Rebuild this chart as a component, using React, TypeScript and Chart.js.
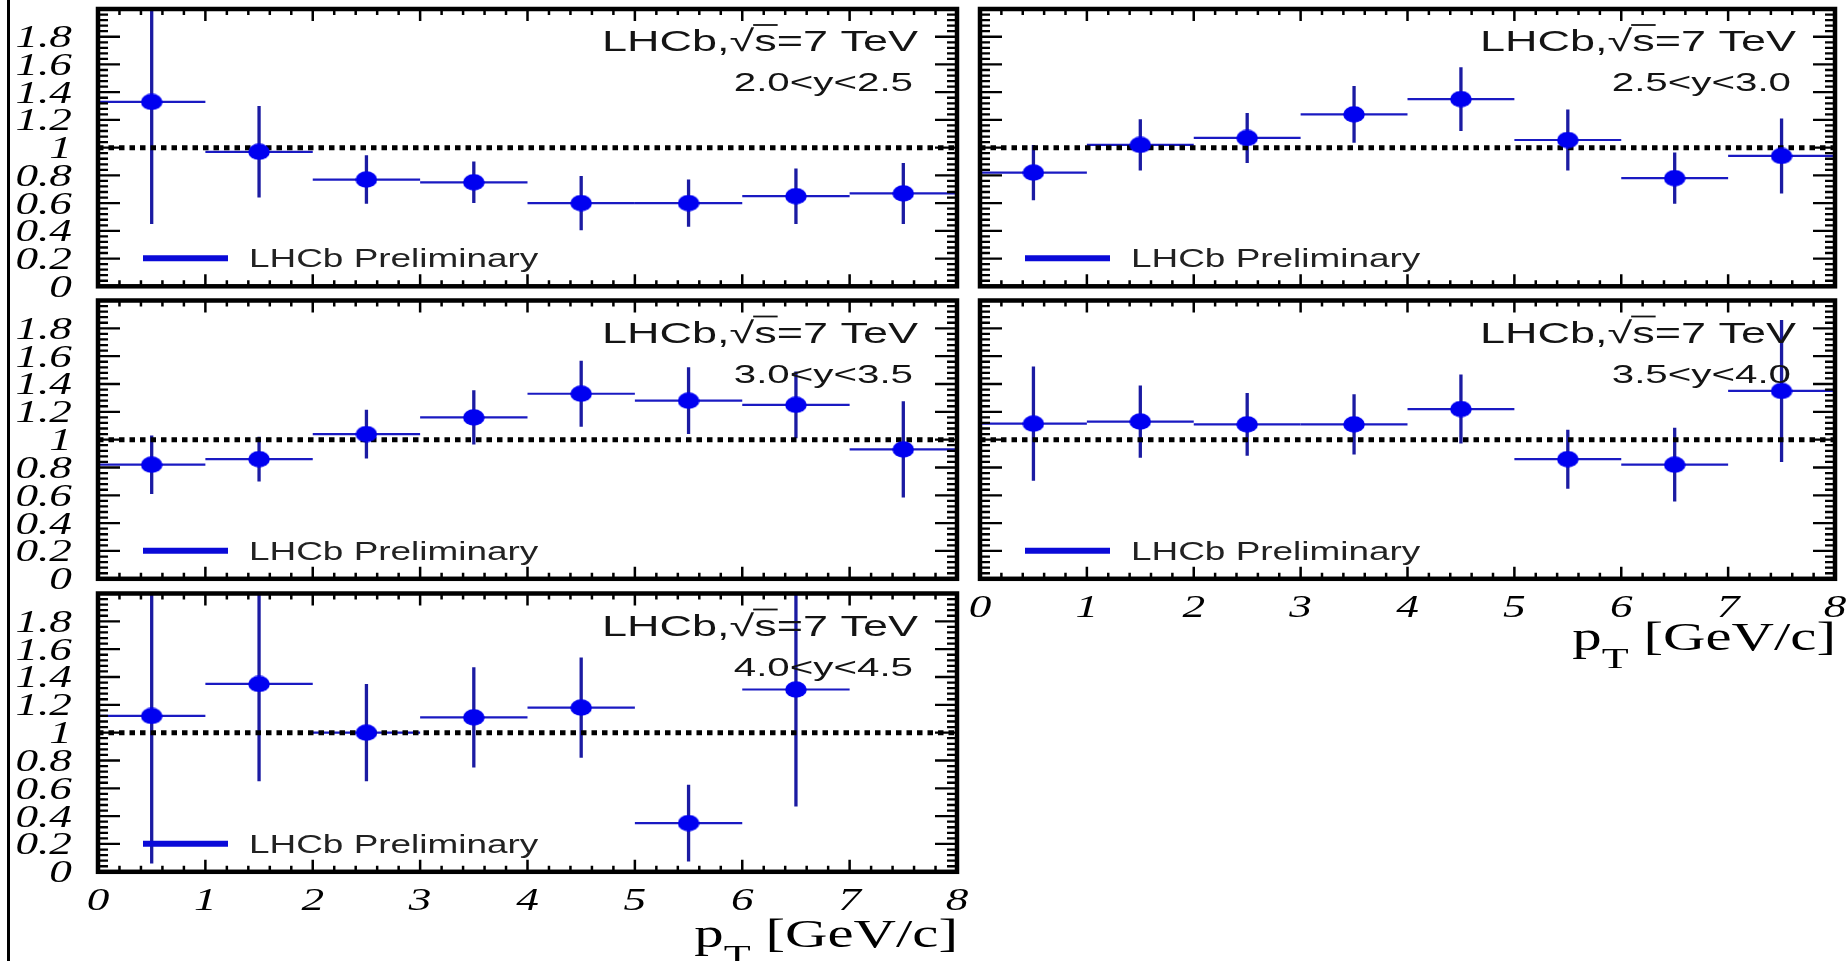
import React, { useEffect, useRef } from 'react';
import { Chart, registerables } from 'chart.js';

Chart.register(...registerables);

// ---------------- data ----------------
const binEdges = [0, 1, 2, 3, 4, 5, 6, 7, 8];
const binCenters = [0.5, 1.5, 2.5, 3.5, 4.5, 5.5, 6.5, 7.5];

const ratioY20to25 = [1.33, 0.97, 0.77, 0.75, 0.6, 0.6, 0.65, 0.67];
const errY20to25 = [0.88, 0.33, 0.175, 0.15, 0.195, 0.17, 0.2, 0.22];
const ratioY25to30 = [0.82, 1.02, 1.07, 1.24, 1.35, 1.055, 0.78, 0.94];
const errY25to30 = [0.2, 0.185, 0.18, 0.205, 0.23, 0.22, 0.185, 0.27];
const ratioY30to35 = [0.82, 0.86, 1.04, 1.16, 1.33, 1.28, 1.25, 0.93];
const errY30to35 = [0.21, 0.16, 0.175, 0.195, 0.237, 0.24, 0.24, 0.346];
const ratioY35to40 = [1.115, 1.13, 1.11, 1.11, 1.22, 0.86, 0.82, 1.35];
const errY35to40 = [0.41, 0.26, 0.226, 0.217, 0.248, 0.212, 0.265, 0.51];
const ratioY40to45 = [1.12, 1.35, 1.0, 1.11, 1.18, 0.35, 1.31, null];
const errY40to45 = [1.06, 0.7, 0.35, 0.36, 0.36, 0.276, 0.84, null];

const rapidityBins = ['2.0<y<2.5', '2.5<y<3.0', '3.0<y<3.5', '3.5<y<4.0', '4.0<y<4.5'];
const referenceLevel = 1;
const xRange = [0, 8];
const yRange = [0, 2];
const yTickValues = [0, 0.2, 0.4, 0.6, 0.8, 1, 1.2, 1.4, 1.6, 1.8];
const yTickLabels = ['0', '0.2', '0.4', '0.6', '0.8', '1', '1.2', '1.4', '1.6', '1.8'];
const xTickValues = [0, 1, 2, 3, 4, 5, 6, 7, 8];
const xTickLabels = ['0', '1', '2', '3', '4', '5', '6', '7', '8'];
const experimentLabel = 'LHCb,√s=7 TeV';
const legendLabel = 'LHCb Preliminary';
const axisTitleMain = 'p';
const axisTitleSub = 'T';
const axisTitleUnit = ' [GeV/c]';

const SERIES = [
  { ratio: ratioY20to25, err: errY20to25 },
  { ratio: ratioY25to30, err: errY25to30 },
  { ratio: ratioY30to35, err: errY30to35 },
  { ratio: ratioY35to40, err: errY35to40 },
  { ratio: ratioY40to45, err: errY40to45 },
];

// ---------------- layout / style ----------------
const PAGE_W = 1846;
const PAGE_H = 961;
const LAYOUT = [
  { left: 98, right: 957, top: 8.3, bottom: 286.3, yLabels: true, xLabels: false, titleDy: 0 },
  { left: 980, right: 1835, top: 8.3, bottom: 286.3, yLabels: false, xLabels: false, titleDy: 0 },
  { left: 98, right: 957, top: 300.5, bottom: 578.8, yLabels: true, xLabels: false, titleDy: 0 },
  { left: 980, right: 1835, top: 300.5, bottom: 578.8, yLabels: false, xLabels: true, titleDy: 71 },
  { left: 98, right: 957, top: 593.5, bottom: 871.8, yLabels: true, xLabels: true, titleDy: 75 },
];

const MARKER_COLOR = '#0000f0';
const VBAR_COLOR = '#1b1ba2';
const HBAR_COLOR = '#1a1ac2';
const TEXT_COLOR = '#141414';
const SERIF_TICK_FONT = "italic 31px 'Liberation Serif'";
const SERIF_SX = 1.46;
const TITLE_SX = 1.47;

let markerCache: HTMLCanvasElement | null = null;
function getMarker(): HTMLCanvasElement {
  if (markerCache) return markerCache;
  const c = document.createElement('canvas');
  c.width = 22;
  c.height = 17;
  const g = c.getContext('2d')!;
  g.fillStyle = MARKER_COLOR;
  g.beginPath();
  g.ellipse(11, 8.5, 10.8, 8.2, 0, 0, Math.PI * 2);
  g.fill();
  markerCache = c;
  return c;
}

function stretchedText(
  ctx: CanvasRenderingContext2D,
  text: string,
  x: number,
  y: number,
  font: string,
  color: string,
  align: CanvasTextAlign,
  sx: number
) {
  ctx.save();
  ctx.font = font;
  ctx.fillStyle = color;
  ctx.textAlign = align;
  ctx.textBaseline = 'alphabetic';
  ctx.translate(x, y);
  ctx.scale(sx, 1);
  ctx.fillText(text, 0, 0);
  ctx.restore();
}

function measure(ctx: CanvasRenderingContext2D, text: string, font: string) {
  ctx.save();
  ctx.font = font;
  const w = ctx.measureText(text).width;
  ctx.restore();
  return w;
}

function makePanelPlugin(idx: number) {
  const L = LAYOUT[idx];
  const S = SERIES[idx];
  return {
    id: 'rootPanel' + idx,
    beforeDatasetsDraw(chart: any) {
      const { ctx, chartArea: a } = chart;
      const xs = chart.scales.x;
      const ys = chart.scales.y;
      ctx.save();
      ctx.beginPath();
      ctx.rect(a.left, a.top, a.right - a.left, a.bottom - a.top);
      ctx.clip();
      for (let i = 0; i < binCenters.length; i++) {
        const r = S.ratio[i];
        const e = S.err[i];
        if (r == null || e == null) continue;
        const py = ys.getPixelForValue(r);
        ctx.strokeStyle = HBAR_COLOR;
        ctx.lineWidth = 2.2;
        ctx.beginPath();
        ctx.moveTo(xs.getPixelForValue(binEdges[i]), py);
        ctx.lineTo(xs.getPixelForValue(binEdges[i + 1]), py);
        ctx.stroke();
        const px = xs.getPixelForValue(binCenters[i]);
        ctx.strokeStyle = VBAR_COLOR;
        ctx.lineWidth = 3.3;
        ctx.beginPath();
        ctx.moveTo(px, ys.getPixelForValue(r - e));
        ctx.lineTo(px, ys.getPixelForValue(r + e));
        ctx.stroke();
      }
      ctx.restore();
    },
    afterDraw(chart: any) {
      const { ctx, chartArea: a } = chart;
      const xs = chart.scales.x;
      const ys = chart.scales.y;

      // ticks (ROOT style, inward on all sides)
      ctx.save();
      ctx.strokeStyle = '#000';
      ctx.lineWidth = 2.5;
      ctx.beginPath();
      for (let k = 0; k <= 40; k++) {
        const v = xRange[0] + k * 0.2;
        const px = xs.getPixelForValue(v);
        const len = k % 5 === 0 ? 12 : 6;
        ctx.moveTo(px, a.bottom);
        ctx.lineTo(px, a.bottom - len);
        ctx.moveTo(px, a.top);
        ctx.lineTo(px, a.top + len);
      }
      ctx.stroke();
      ctx.lineWidth = 2.3;
      ctx.beginPath();
      for (let k = 0; k <= 50; k++) {
        const v = yRange[0] + k * 0.04;
        const py = ys.getPixelForValue(v);
        const len = k % 5 === 0 ? 22 : 10;
        ctx.moveTo(a.left, py);
        ctx.lineTo(a.left + len, py);
        ctx.moveTo(a.right, py);
        ctx.lineTo(a.right - len, py);
      }
      ctx.stroke();

      // frame
      ctx.lineWidth = 4.5;
      ctx.strokeRect(a.left, a.top, a.right - a.left, a.bottom - a.top);
      ctx.restore();

      // y tick labels
      if (L.yLabels) {
        yTickValues.forEach((v, i) => {
          const py = ys.getPixelForValue(v);
          stretchedText(ctx, yTickLabels[i], a.left - 26, py + 10.5, SERIF_TICK_FONT, '#000', 'right', SERIF_SX);
        });
      }
      // x tick labels + axis title
      if (L.xLabels) {
        xTickValues.forEach((v, i) => {
          const px = xs.getPixelForValue(v);
          stretchedText(ctx, xTickLabels[i], px, a.bottom + 38.5, SERIF_TICK_FONT, '#000', 'center', SERIF_SX);
        });
        const mainFont = "40px 'Liberation Serif'";
        const subFont = "30px 'Liberation Serif'";
        const base = a.bottom + L.titleDy;
        const xr = a.right + 1;
        const wUnit = measure(ctx, axisTitleUnit, mainFont) * TITLE_SX;
        const wSub = measure(ctx, axisTitleSub, subFont) * TITLE_SX;
        stretchedText(ctx, axisTitleUnit, xr, base, mainFont, '#000', 'right', TITLE_SX);
        stretchedText(ctx, axisTitleSub, xr - wUnit, base + 18, subFont, '#000', 'right', TITLE_SX);
        stretchedText(ctx, axisTitleMain, xr - wUnit - wSub, base, mainFont, '#000', 'right', TITLE_SX);
      }

      // experiment label with sqrt overline
      const expFont = "30px 'Liberation Sans'";
      const expSx = 1.5;
      const expRight = a.right - 39;
      const expBase = a.top + 42;
      stretchedText(ctx, experimentLabel, expRight, expBase, expFont, TEXT_COLOR, 'right', expSx);
      const wAll = measure(ctx, experimentLabel, expFont) * expSx;
      const wPre = measure(ctx, 'LHCb,√', expFont) * expSx;
      const wS = measure(ctx, 's', expFont) * expSx;
      const x0 = expRight - wAll + wPre - 1;
      ctx.save();
      ctx.strokeStyle = TEXT_COLOR;
      ctx.lineWidth = 1.8;
      ctx.beginPath();
      ctx.moveTo(x0, expBase - 26);
      ctx.lineTo(x0 + wS + 2, expBase - 26);
      ctx.stroke();
      ctx.restore();

      // rapidity bin label
      stretchedText(ctx, rapidityBins[idx], a.right - 44, a.top + 82, "26px 'Liberation Sans'", TEXT_COLOR, 'right', 1.55);

      // legend
      ctx.save();
      ctx.strokeStyle = '#0a0ad8';
      ctx.lineWidth = 6;
      ctx.beginPath();
      ctx.moveTo(a.left + 45, a.bottom - 28);
      ctx.lineTo(a.left + 130, a.bottom - 28);
      ctx.stroke();
      ctx.restore();
      stretchedText(ctx, legendLabel, a.left + 151, a.bottom - 19, "26px 'Liberation Sans'", '#222', 'left', 1.42);
    },
  };
}

function Panel({ idx }: { idx: number }) {
  const ref = useRef<HTMLCanvasElement>(null);
  useEffect(() => {
    const canvas = ref.current;
    if (!canvas) return;
    const L = LAYOUT[idx];
    const S = SERIES[idx];
    const points = binCenters
      .map((x, i) => (S.ratio[i] == null ? null : { x, y: S.ratio[i] as number }))
      .filter((p) => p !== null);
    const chart = new Chart(canvas, {
      type: 'scatter',
      data: {
        datasets: [
          {
            label: 'LHCb Preliminary',
            data: points as any,
            pointStyle: getMarker() as any,
            pointRadius: 8,
            order: 0,
          },
          {
            label: 'reference',
            data: [
              { x: xRange[0], y: referenceLevel },
              { x: xRange[1], y: referenceLevel },
            ],
            showLine: true,
            borderColor: '#000',
            borderWidth: 5,
            borderDash: [5.5, 5],
            borderCapStyle: 'butt',
            pointRadius: 0,
            order: 1,
          } as any,
        ],
      },
      options: {
        animation: false,
        responsive: false,
        events: [],
        layout: {
          padding: {
            left: L.left,
            top: L.top,
            right: PAGE_W - L.right,
            bottom: PAGE_H - L.bottom,
          },
        },
        plugins: { legend: { display: false }, tooltip: { enabled: false }, title: { display: false } },
        scales: {
          x: { type: 'linear', min: xRange[0], max: xRange[1], display: false },
          y: { type: 'linear', min: yRange[0], max: yRange[1], display: false },
        },
      },
      plugins: [makePanelPlugin(idx)],
    });
    return () => chart.destroy();
  }, [idx]);
  return (
    <canvas
      ref={ref}
      width={PAGE_W}
      height={PAGE_H}
      style={{ position: 'absolute', left: 0, top: 0 }}
    />
  );
}

export default function App() {
  return (
    <div
      style={{
        position: 'absolute',
        left: 0,
        top: 0,
        width: PAGE_W,
        height: PAGE_H,
        background: '#fff',
        overflow: 'hidden',
      }}
    >
      <div style={{ position: 'absolute', left: 7, top: 0, width: 3, height: PAGE_H, background: '#000' }} />
      {LAYOUT.map((_, i) => (
        <Panel key={i} idx={i} />
      ))}
    </div>
  );
}
